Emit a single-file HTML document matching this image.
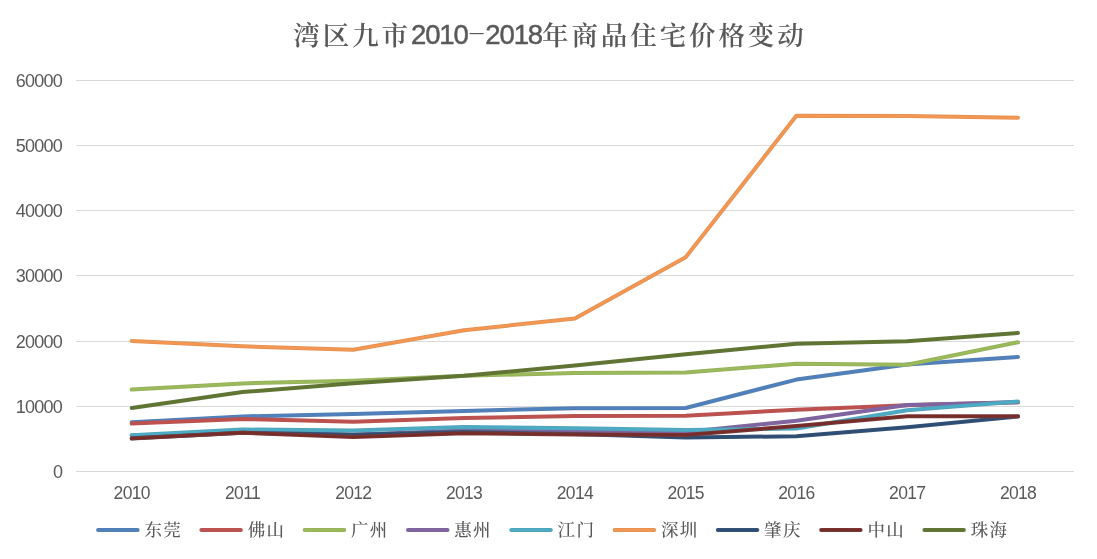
<!DOCTYPE html>
<html lang="zh-CN">
<head>
<meta charset="utf-8">
<title>湾区九市2010-2018年商品住宅价格变动</title>
<style>
html,body{margin:0;padding:0;background:#fff;}
body{width:1097px;height:559px;position:relative;overflow:hidden;font-family:"Liberation Sans","Noto Sans CJK SC",sans-serif;color:#595959;}
#chart{position:absolute;left:0;top:0;width:1097px;height:559px;}
.title{position:absolute;left:1.5px;top:17px;width:1097px;text-align:center;font-family:"Liberation Sans","Noto Serif CJK SC",serif;font-size:26.5px;line-height:38px;letter-spacing:2.9px;color:#595959;white-space:nowrap;font-weight:600;}
.title .num{font-size:27.5px;letter-spacing:-1.1px;position:relative;top:-0.7px;-webkit-text-stroke:0.5px #595959;font-weight:400;}
.title .hy{display:inline-block;width:17.5px;text-align:center;letter-spacing:0;-webkit-text-stroke:0;transform:translateY(-1.2px) scale(2.1,0.5);}
.yl{position:absolute;left:0;width:62.2px;text-align:right;font-size:18px;line-height:20px;letter-spacing:-0.7px;color:#595959;}
.xl{position:absolute;width:80px;text-align:center;font-size:17.5px;line-height:20px;letter-spacing:-0.7px;top:482.5px;color:#595959;}
.lg{position:absolute;top:518px;font-family:"Liberation Sans","Noto Serif CJK SC",serif;font-size:17.5px;line-height:24px;letter-spacing:1.3px;color:#595959;white-space:nowrap;font-weight:500;}
</style>
</head>
<body>
<svg id="chart" width="1097" height="559" viewBox="0 0 1097 559">
<g stroke="#d9d9d9" stroke-width="1" fill="none" shape-rendering="crispEdges">
<line x1="75.5" y1="471.5" x2="1074.0" y2="471.5"/>
<line x1="75.5" y1="406.5" x2="1074.0" y2="406.5"/>
<line x1="75.5" y1="341.5" x2="1074.0" y2="341.5"/>
<line x1="75.5" y1="275.5" x2="1074.0" y2="275.5"/>
<line x1="75.5" y1="210.5" x2="1074.0" y2="210.5"/>
<line x1="75.5" y1="145.5" x2="1074.0" y2="145.5"/>
<line x1="75.5" y1="80.5" x2="1074.0" y2="80.5"/>
</g>
<g fill="none" stroke-linecap="round" stroke-linejoin="round">
<polyline stroke="#557fb2" stroke-width="4" points="131.7,422.2 242.5,416.4 353.3,413.9 464.1,410.9 574.9,408.2 685.7,408.0 796.4,379.6 907.2,364.4 1018.0,356.9"/>
<polyline stroke="#4f81bd" stroke-width="2.2" points="131.7,422.2 242.5,416.4 353.3,413.9 464.1,410.9 574.9,408.2 685.7,408.0 796.4,379.6 907.2,364.4 1018.0,356.9"/>
<polyline stroke="#b45654" stroke-width="4" points="131.7,423.6 242.5,418.9 353.3,421.8 464.1,418.0 574.9,416.0 685.7,415.7 796.4,409.7 907.2,405.3 1018.0,402.2"/>
<polyline stroke="#c0504d" stroke-width="2.2" points="131.7,423.6 242.5,418.9 353.3,421.8 464.1,418.0 574.9,416.0 685.7,415.7 796.4,409.7 907.2,405.3 1018.0,402.2"/>
<polyline stroke="#95b05e" stroke-width="4" points="131.7,389.6 242.5,383.4 353.3,380.7 464.1,375.8 574.9,372.9 685.7,372.5 796.4,363.7 907.2,364.8 1018.0,342.2"/>
<polyline stroke="#9bbb59" stroke-width="2.2" points="131.7,389.6 242.5,383.4 353.3,380.7 464.1,375.8 574.9,372.9 685.7,372.5 796.4,363.7 907.2,364.8 1018.0,342.2"/>
<polyline stroke="#7e679b" stroke-width="4" points="131.7,435.4 242.5,432.1 353.3,434.7 464.1,430.6 574.9,431.5 685.7,432.1 796.4,420.7 907.2,405.1 1018.0,402.2"/>
<polyline stroke="#8064a2" stroke-width="2.2" points="131.7,435.4 242.5,432.1 353.3,434.7 464.1,430.6 574.9,431.5 685.7,432.1 796.4,420.7 907.2,405.1 1018.0,402.2"/>
<polyline stroke="#52a3b9" stroke-width="4" points="131.7,435.2 242.5,429.5 353.3,430.6 464.1,427.0 574.9,428.3 685.7,430.0 796.4,428.5 907.2,410.2 1018.0,401.5"/>
<polyline stroke="#4bacc6" stroke-width="2.2" points="131.7,435.2 242.5,429.5 353.3,430.6 464.1,427.0 574.9,428.3 685.7,430.0 796.4,428.5 907.2,410.2 1018.0,401.5"/>
<polyline stroke="#e19256" stroke-width="4" points="131.7,340.9 242.5,346.3 353.3,349.8 464.1,330.2 574.9,318.6 685.7,257.2 796.4,115.8 907.2,116.1 1018.0,117.8"/>
<polyline stroke="#f59750" stroke-width="2.2" points="131.7,340.9 242.5,346.3 353.3,349.8 464.1,330.2 574.9,318.6 685.7,257.2 796.4,115.8 907.2,116.1 1018.0,117.8"/>
<polyline stroke="#385475" stroke-width="4" points="131.7,438.3 242.5,432.8 353.3,434.7 464.1,432.1 574.9,434.1 685.7,437.6 796.4,436.2 907.2,427.2 1018.0,416.5"/>
<polyline stroke="#2c4d75" stroke-width="2.2" points="131.7,438.3 242.5,432.8 353.3,434.7 464.1,432.1 574.9,434.1 685.7,437.6 796.4,436.2 907.2,427.2 1018.0,416.5"/>
<polyline stroke="#773836" stroke-width="4" points="131.7,438.6 242.5,432.7 353.3,437.1 464.1,433.3 574.9,434.4 685.7,434.9 796.4,426.1 907.2,416.2 1018.0,416.2"/>
<polyline stroke="#772c2a" stroke-width="2.2" points="131.7,438.6 242.5,432.7 353.3,437.1 464.1,433.3 574.9,434.4 685.7,434.9 796.4,426.1 907.2,416.2 1018.0,416.2"/>
<polyline stroke="#63753b" stroke-width="4" points="131.7,407.9 242.5,392.1 353.3,383.3 464.1,375.8 574.9,365.5 685.7,354.2 796.4,343.8 907.2,341.3 1018.0,332.9"/>
<polyline stroke="#5f7530" stroke-width="2.2" points="131.7,407.9 242.5,392.1 353.3,383.3 464.1,375.8 574.9,365.5 685.7,354.2 796.4,343.8 907.2,341.3 1018.0,332.9"/>
</g>
<g fill="none" stroke-linecap="round">
<line stroke="#557fb2" stroke-width="4" x1="98.1" y1="529.9" x2="137.6" y2="529.9"/>
<line stroke="#4f81bd" stroke-width="2.2" x1="98.1" y1="529.9" x2="137.6" y2="529.9"/>
<line stroke="#b45654" stroke-width="4" x1="201.4" y1="529.9" x2="240.9" y2="529.9"/>
<line stroke="#c0504d" stroke-width="2.2" x1="201.4" y1="529.9" x2="240.9" y2="529.9"/>
<line stroke="#95b05e" stroke-width="4" x1="304.7" y1="529.9" x2="344.2" y2="529.9"/>
<line stroke="#9bbb59" stroke-width="2.2" x1="304.7" y1="529.9" x2="344.2" y2="529.9"/>
<line stroke="#7e679b" stroke-width="4" x1="408.0" y1="529.9" x2="447.5" y2="529.9"/>
<line stroke="#8064a2" stroke-width="2.2" x1="408.0" y1="529.9" x2="447.5" y2="529.9"/>
<line stroke="#52a3b9" stroke-width="4" x1="511.3" y1="529.9" x2="550.8" y2="529.9"/>
<line stroke="#4bacc6" stroke-width="2.2" x1="511.3" y1="529.9" x2="550.8" y2="529.9"/>
<line stroke="#e19256" stroke-width="4" x1="614.6" y1="529.9" x2="654.1" y2="529.9"/>
<line stroke="#f59750" stroke-width="2.2" x1="614.6" y1="529.9" x2="654.1" y2="529.9"/>
<line stroke="#385475" stroke-width="4" x1="717.8" y1="529.9" x2="757.3" y2="529.9"/>
<line stroke="#2c4d75" stroke-width="2.2" x1="717.8" y1="529.9" x2="757.3" y2="529.9"/>
<line stroke="#773836" stroke-width="4" x1="821.1" y1="529.9" x2="860.6" y2="529.9"/>
<line stroke="#772c2a" stroke-width="2.2" x1="821.1" y1="529.9" x2="860.6" y2="529.9"/>
<line stroke="#63753b" stroke-width="4" x1="924.4" y1="529.9" x2="963.9" y2="529.9"/>
<line stroke="#5f7530" stroke-width="2.2" x1="924.4" y1="529.9" x2="963.9" y2="529.9"/>
</g>
</svg>
<div class="title">湾区九市<span class="num">2010<span class="hy">-</span>2018</span>年商品住宅价格变动</div>
<div class="yl" style="top:462.1px">0</div>
<div class="yl" style="top:397.1px">10000</div>
<div class="yl" style="top:332.1px">20000</div>
<div class="yl" style="top:266.1px">30000</div>
<div class="yl" style="top:201.1px">40000</div>
<div class="yl" style="top:136.1px">50000</div>
<div class="yl" style="top:71.1px">60000</div>
<div class="xl" style="left:91.7px">2010</div>
<div class="xl" style="left:202.5px">2011</div>
<div class="xl" style="left:313.3px">2012</div>
<div class="xl" style="left:424.1px">2013</div>
<div class="xl" style="left:534.9px">2014</div>
<div class="xl" style="left:645.7px">2015</div>
<div class="xl" style="left:756.4px">2016</div>
<div class="xl" style="left:867.2px">2017</div>
<div class="xl" style="left:978.0px">2018</div>
<div class="lg" style="left:144.4px">东莞</div>
<div class="lg" style="left:247.7px">佛山</div>
<div class="lg" style="left:351.0px">广州</div>
<div class="lg" style="left:454.3px">惠州</div>
<div class="lg" style="left:557.6px">江门</div>
<div class="lg" style="left:660.9px">深圳</div>
<div class="lg" style="left:764.1px">肇庆</div>
<div class="lg" style="left:867.4px">中山</div>
<div class="lg" style="left:970.7px">珠海</div>
</body>
</html>
